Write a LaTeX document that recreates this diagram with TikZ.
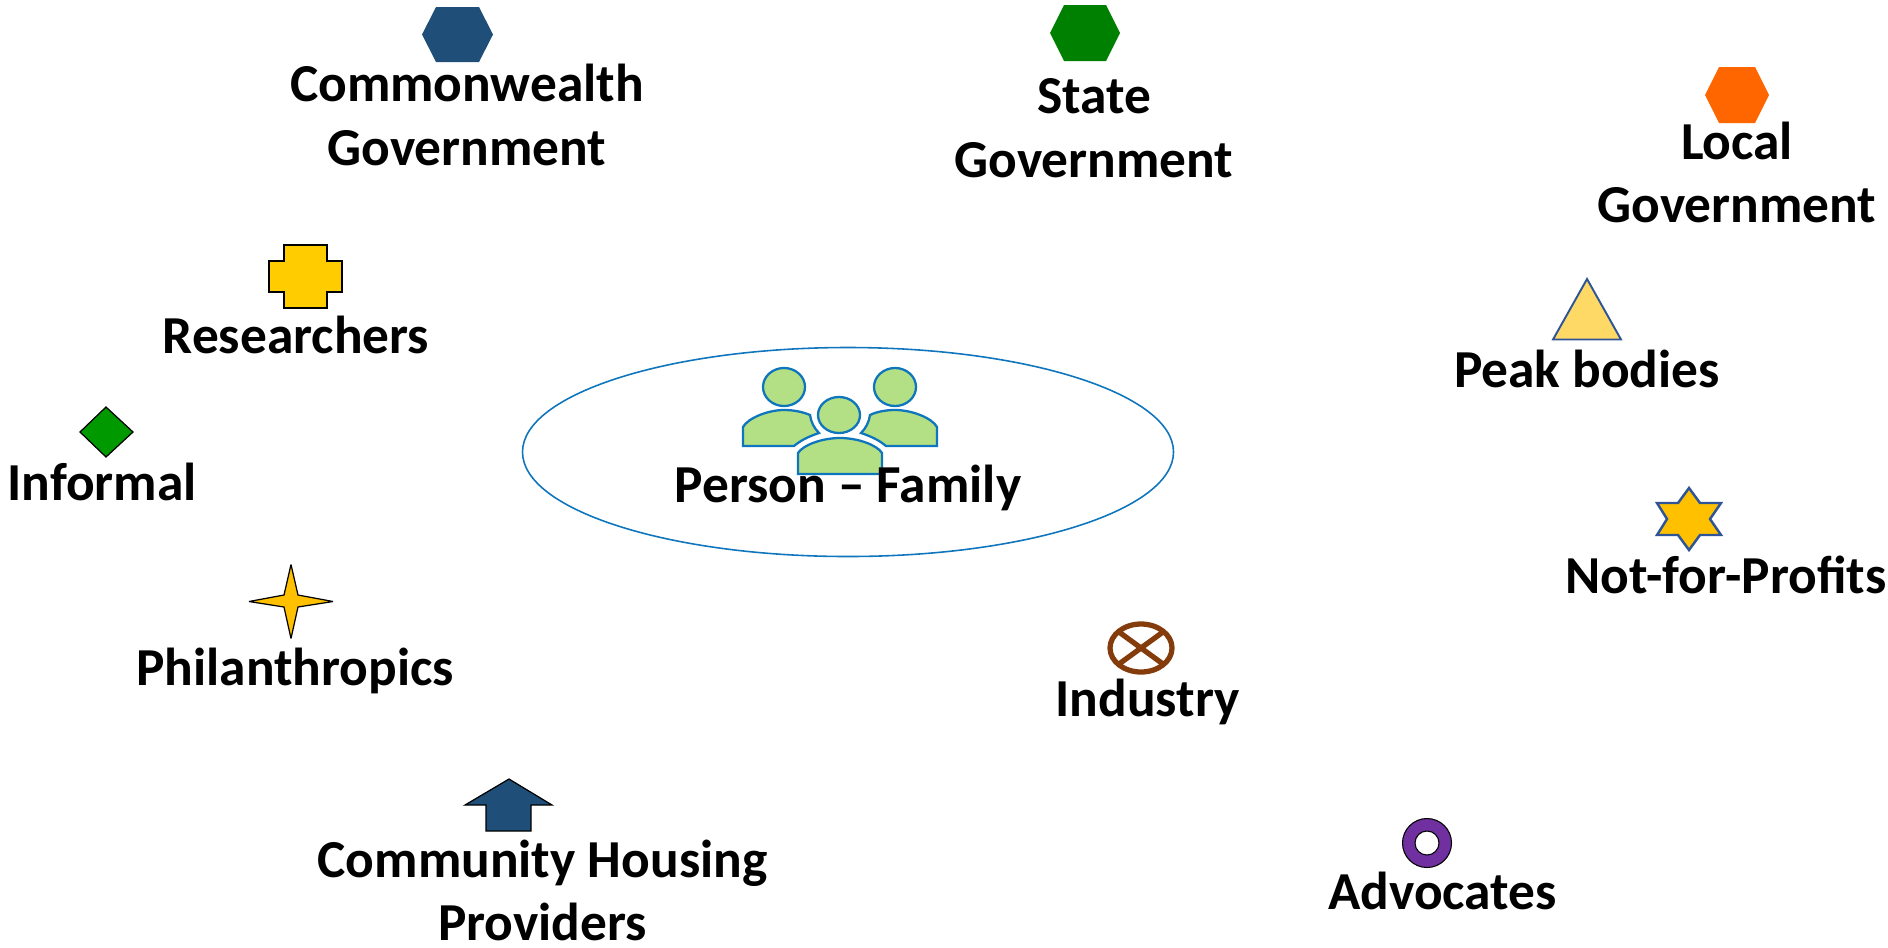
\documentclass[tikz,border=0pt]{standalone}
\usepackage{fontspec}
\setmainfont{Carlito}
\definecolor{navyfill}{HTML}{1F4E79}
\definecolor{greenfill}{HTML}{008000}
\definecolor{orangefill}{HTML}{FF6600}
\definecolor{yellowfill}{HTML}{FFCC00}
\definecolor{amberfill}{HTML}{FFC000}
\definecolor{sandfill}{HTML}{FFD966}
\definecolor{leaffill}{HTML}{009900}
\definecolor{peoplefill}{HTML}{B3E084}
\definecolor{peopleline}{HTML}{0F75BC}
\definecolor{slateline}{HTML}{2F5597}
\definecolor{rustline}{HTML}{843C0C}
\definecolor{purplefill}{HTML}{7030A0}
\tikzset{
    caption/.style={font=\fontsize{30.4}{36.3}\selectfont\bfseries, align=center, inner sep=0pt},
    person/.style={draw=peopleline, fill=peoplefill, line width=1.3pt},
    glyph/.style={draw=black, line width=0.7pt, line join=miter}
}
\begin{document}
\begin{tikzpicture}[x=0.02cm, y=-0.02cm]

        % Page
        \useasboundingbox (0,0) rectangle (1888,947);

        % Centre ellipse
        \draw[peopleline, line width=0.9pt] (848,452) ellipse (325.5 and 104.5);

        % People
        \draw[person] (784,387) ellipse (21 and 19);
        \draw[person] (895,387) ellipse (21 and 19);
        \draw[person] (839,415) ellipse (21 and 18);
        \draw[person] (743,446) -- (743,427) .. controls (748,418) and (768,410) .. (784,410)
            .. controls (794,410) and (803,412) .. (810,415) .. controls (811,422) and (814,428) .. (819,433)
            .. controls (810,436) and (801,440) .. (794,446) -- cycle;
        \draw[person] (937,446) -- (937,427) .. controls (932,418) and (912,410) .. (895,410)
            .. controls (885,410) and (876,412) .. (870,415) .. controls (869,422) and (866,428) .. (861,433)
            .. controls (870,436) and (879,440) .. (886,446) -- cycle;
        \draw[person] (798,474) -- (798,453) .. controls (803,445) and (822,438) .. (840,438)
            .. controls (858,438) and (877,445) .. (882,453) -- (882,474) -- cycle;

        % Hexagons
        \foreach \cx/\cy/\rx/\ry/\col in {457.5/34.5/35.5/27.5/navyfill, 1085/33/35/28/greenfill, 1737/95/32/28/orangefill} {
            \fill[\col] (\cx-\rx,\cy) -- (\cx-\rx+14,\cy-\ry) -- (\cx+\rx-14,\cy-\ry) -- (\cx+\rx,\cy)
                -- (\cx+\rx-14,\cy+\ry) -- (\cx-\rx+14,\cy+\ry) -- cycle;
        }

        % Cross
        \draw[glyph, fill=yellowfill] (284,245) -- (327,245) -- (327,261) -- (342,261) -- (342,292)
            -- (327,292) -- (327,308) -- (284,308) -- (284,292) -- (269,292) -- (269,261) -- (284,261) -- cycle;

        % Diamond
        \draw[glyph, fill=leaffill] (106,407) -- (133,432) -- (106,457) -- (80,432) -- cycle;

        % Four point star
        \draw[glyph, fill=amberfill, miter limit=4] (291,564.5) -- (298,595) -- (333,601.5) -- (298,607) -- (291,638.5)
            -- (284,607) -- (249,601.5) -- (284,595) -- cycle;

        % Up arrow
        \draw[glyph, fill=navyfill] (509,779) -- (552,805) -- (531,805) -- (531,831) -- (486,831)
            -- (486,805) -- (465,805) -- cycle;

        % Triangle
        \draw[slateline, fill=sandfill, line width=1.1pt] (1587,279) -- (1621,339.5) -- (1553,339.5) -- cycle;

        % Six point star
        \draw[slateline, fill=amberfill, line width=1.4pt] (1689,488) -- (1700,503) -- (1721,503) -- (1710,519)
            -- (1721,535) -- (1700,535) -- (1689,550) -- (1678,535) -- (1657,535) -- (1667,519)
            -- (1657,503) -- (1678,503) -- cycle;

        % Crossed circle
        \draw[rustline, line width=3pt] (1141,648) ellipse (31 and 24);
        \draw[rustline, line width=3pt] (1119,632) -- (1163,664);
        \draw[rustline, line width=3pt] (1163,632) -- (1119,664);

        % Ring
        \draw[black, line width=0.6pt, fill=purplefill, even odd rule] (1427,843) circle (24.5) (1427,843) circle (12);

        % Labels
        \node[caption] (commonwealth) at (467,115) {Commonwealth\\Government};
        \node[caption] (state) at (1094,128.5) {State\\Government};
        \node[caption] (local) at (1737,172.5) {Local\\Government};
        \node[caption] (researchers) at (296,335) {Researchers};
        \node[caption] (informal) at (102,482) {Informal};
        \node[caption] (philanthropics) at (295,670.5) {Philanthropics};
        \node[caption] (housing) at (542.5,890.5) {Community Housing\\Providers};
        \node[caption] (peak) at (1587,369) {Peak bodies};
        \node[caption] (profits) at (1726,575) {Not-for-Profits};
        \node[caption] (industry) at (1147.5,701.5) {Industry};
        \node[caption] (advocates) at (1442.5,891) {Advocates};
        \node[caption] (family) at (848,488) {Person -- Family};

    \end{tikzpicture}
\end{document}
